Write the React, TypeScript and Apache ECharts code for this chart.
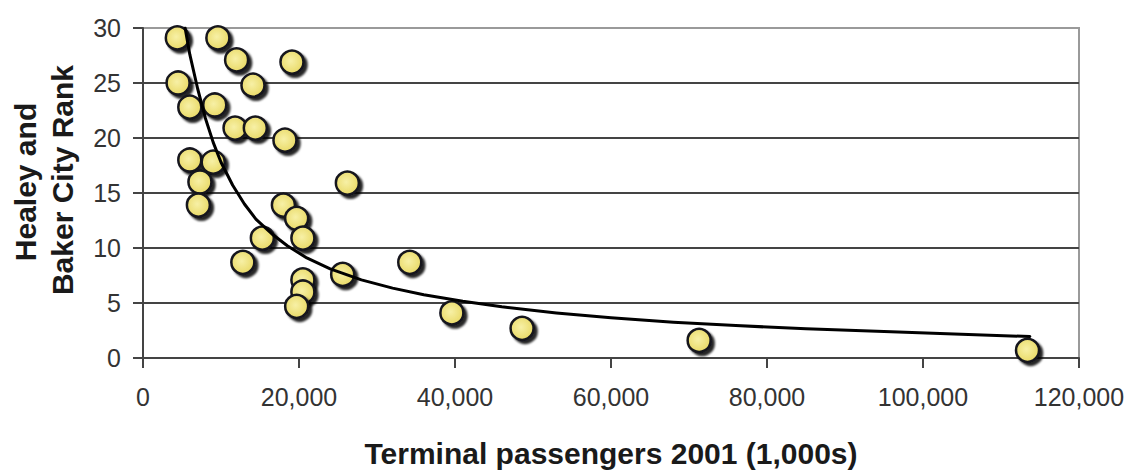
import React, { useEffect, useRef } from "react";
import * as echarts from "echarts";

// Terminal passengers 2001 (1,000s)
const passengers = [
  4400, 9600, 12000, 19100, 4500, 14100, 6000, 9200, 11800, 14400,
  18200, 6000, 9000, 7300, 26200, 7100, 18000, 19700, 15300, 20500,
  12800, 25600, 20500, 20500, 19700, 34200, 39600, 48600, 71300, 113400,
];
// Healey and Baker City Rank
const ranks = [
  29.1, 29.1, 27.1, 26.9, 25, 24.8, 22.8, 23, 20.9, 20.9,
  19.8, 18, 17.8, 16, 15.9, 13.9, 13.9, 12.7, 10.9, 10.9,
  8.7, 7.6, 7.1, 6, 4.7, 8.7, 4.1, 2.7, 1.6, 0.7,
];
// Trend line
const trendX = [
  5400, 6000, 7000, 8000, 9000, 10000, 11500, 13000, 14500, 16500, 18500, 21000, 24000,
  28000, 32000, 36000, 41000, 46000, 53000, 60000, 68000, 76000, 85000, 95000, 104000, 113700,
];
const trendY = [
  30, 27.6, 24.5, 21.8, 19.6, 17.8, 15.7, 14.0, 12.6, 11.3, 10.2, 9.1, 8.1,
  7.1, 6.35, 5.75, 5.15, 4.65, 4.1, 3.65, 3.25, 2.95, 2.65, 2.4, 2.18, 1.95,
];

const xTicks = [0, 20000, 40000, 60000, 80000, 100000, 120000];
const yTicks = [0, 5, 10, 15, 20, 25, 30];

const FONT = "'Liberation Sans', Arial, Helvetica, sans-serif";

export default function App() {
  const ref = useRef<HTMLDivElement>(null);
  useEffect(() => {
    if (!ref.current) return;
    const chart = echarts.init(ref.current, null, { renderer: "svg" });
    const points = passengers.map((x, i) => [x, ranks[i]]);
    const trend = trendX.map((x, i) => [x, trendY[i]]);
    chart.setOption({
      animation: false,
      backgroundColor: "#ffffff",
      textStyle: { fontFamily: FONT },
      grid: {
        left: 143,
        right: 58,
        top: 28,
        bottom: 115,
        show: true,
        borderColor: "#9a9a9a",
        borderWidth: 2,
        backgroundColor: "transparent",
      },
      xAxis: {
        type: "value",
        min: xTicks[0],
        max: xTicks[xTicks.length - 1],
        interval: xTicks[1] - xTicks[0],
        name: "Terminal passengers 2001 (1,000s)",
        nameLocation: "middle",
        nameGap: 80,
        nameTextStyle: { fontFamily: FONT, fontSize: 30, fontWeight: "bold", color: "#1a1a1a" },
        axisLine: { show: true, lineStyle: { color: "#444", width: 2 } },
        axisTick: { show: true, inside: false, length: 10, lineStyle: { color: "#444", width: 2 } },
        axisLabel: {
          margin: 26,
          fontFamily: FONT,
          fontSize: 25,
          color: "#333",
          formatter: (v: number) => v.toLocaleString("en-US"),
        },
        splitLine: { show: false },
      },
      yAxis: {
        type: "value",
        min: yTicks[0],
        max: yTicks[yTicks.length - 1],
        interval: yTicks[1] - yTicks[0],
        axisLine: { show: true, lineStyle: { color: "#444", width: 2 } },
        axisTick: { show: true, inside: false, length: 10, lineStyle: { color: "#444", width: 2 } },
        axisLabel: { margin: 22, fontFamily: FONT, fontSize: 25, color: "#333" },
        splitLine: {
          show: true,
          lineStyle: {
            color: ["#444", "#444", "#444", "#444", "#444", "#444", "#9a9a9a"],
            width: 2,
          },
        },
      },
      graphic: [
        {
          type: "text",
          x: 25,
          y: 182,
          rotation: Math.PI / 2,
          style: {
            text: "Healey and",
            fontFamily: FONT,
            fontSize: 30,
            fontWeight: "bold",
            fill: "#1a1a1a",
            align: "center",
            verticalAlign: "middle",
          },
        },
        {
          type: "text",
          x: 62,
          y: 180,
          rotation: Math.PI / 2,
          style: {
            text: "Baker City Rank",
            fontFamily: FONT,
            fontSize: 30,
            fontWeight: "bold",
            fill: "#1a1a1a",
            align: "center",
            verticalAlign: "middle",
          },
        },
      ],
      series: [
        {
          type: "scatter",
          data: points,
          symbol: "circle",
          symbolSize: 23,
          z: 3,
          itemStyle: {
            color: {
              type: "radial",
              x: 0.45,
              y: 0.45,
              r: 0.6,
              colorStops: [
                { offset: 0, color: "#f7f0a6" },
                { offset: 1, color: "#e8d862" },
              ],
            },
            borderColor: "#14141e",
            borderWidth: 2.5,
            opacity: 1,
            shadowColor: "rgba(0,0,0,0.85)",
            shadowBlur: 2,
            shadowOffsetX: 3,
            shadowOffsetY: 3,
          },
        },
        {
          type: "line",
          data: trend,
          smooth: false,
          showSymbol: false,
          symbol: "none",
          z: 4,
          clip: true,
          lineStyle: { color: "#000", width: 3, join: "round", cap: "round" },
        },
      ],
    });
    return () => chart.dispose();
  }, []);
  return (
    <div
      ref={ref}
      style={{ position: "fixed", left: 0, top: 0, width: 1137, height: 473, background: "#fff" }}
    />
  );
}
